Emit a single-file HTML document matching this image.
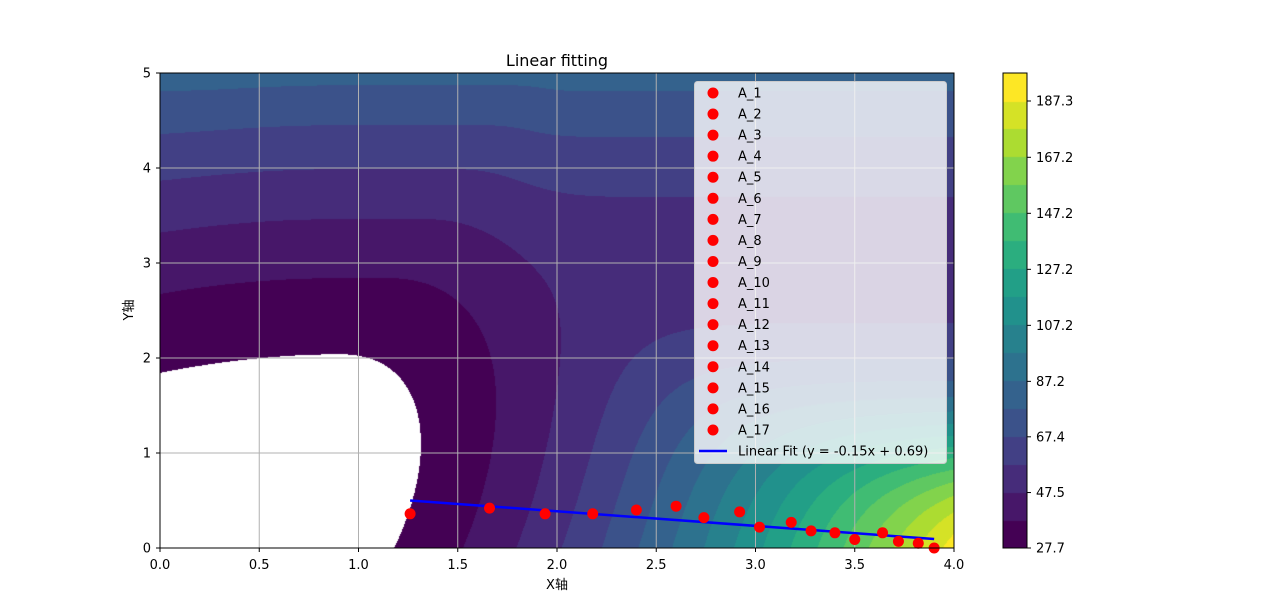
<!DOCTYPE html>
<html><head><meta charset="utf-8">
<style>
body{margin:0;background:#fff;width:1280px;height:616px;overflow:hidden;font-family:"Liberation Sans","DejaVu Sans","Noto Sans CJK SC",sans-serif;}
#wrap{position:relative;width:1280px;height:616px;}
canvas{position:absolute;}
svg{position:absolute;left:0;top:0;}
text{font-family:"DejaVu Sans","Liberation Sans","Noto Sans CJK SC",sans-serif;font-size:13px;fill:#000;}
</style></head>
<body>
<div id="wrap">
<canvas id="cf" width="794" height="475" style="left:160px;top:73px"></canvas>
<canvas id="cb" width="24" height="475" style="left:1003px;top:73px"></canvas>
<svg id="s" width="1280" height="616"></svg>
</div>
<script>
const xs=[1.26,1.66,1.94,2.18,2.40,2.60,2.74,2.92,3.02,3.18,3.28,3.40,3.50,3.64,3.72,3.82,3.90];
const ys=[0.36,0.42,0.36,0.36,0.40,0.44,0.32,0.38,0.22,0.27,0.18,0.16,0.09,0.16,0.07,0.05,0.0];
const labels=["A_1","A_2","A_3","A_4","A_5","A_6","A_7","A_8","A_9","A_10","A_11","A_12","A_13","A_14","A_15","A_16","A_17"];
const xTicks=[0,0.5,1,1.5,2,2.5,3,3.5,4];
const yTicks=[0,1,2,3,4,5];
const cbTicks=[27.7,47.5,67.4,87.2,107.2,127.2,147.2,167.2,187.3];
const vmin=27.7, vmax=197.3, nBands=17;

const PX=160,PY=73,PW=794,PH=475;
const sx=x=>PX+x/4*PW, sy=y=>PY+PH-y/5*PH;
const vir=["#440154","#482475","#414487","#355f8d","#2a788e","#21918c","#22a884","#44bf70","#7ad151","#bddf26","#fde725"];
function hex(h){return[parseInt(h.slice(1,3),16),parseInt(h.slice(3,5),16),parseInt(h.slice(5,7),16)];}
function viridis(t){t=Math.max(0,Math.min(1,t));const f=t*10,i=Math.min(9,Math.floor(f)),u=f-i;const a=hex(vir[i]),b=hex(vir[i+1]);return a.map((v,k)=>Math.round(v+(b[k]-v)*u));}
const bandCol=[];for(let k=0;k<nBands;k++)bandCol.push(viridis(k/(nBands-1)));
function field(x,y){
  const A=13.7+2.15*y, x0=0.3+0.3*y, C=400*Math.exp(-1.15*y);
  const xl=Math.min(x0,0.9);
  let Q;
  if(x>x0){const d=x-x0;Q=A*d*d;}
  else if(x<xl){const d=x-xl;Q=0.15*A*d*d;}
  else Q=0;
  return 17.1+2.55*y*y+C*Math.tanh(Q/C);
}
const c=document.getElementById('cf').getContext('2d');const img=c.createImageData(PW,PH);
const step=(vmax-vmin)/nBands;
for(let j=0;j<PH;j++)for(let i=0;i<PW;i++){const x=(i+0.5)/PW*4,y=5-(j+0.5)/PH*5;const v=field(x,y);const o=(j*PW+i)*4;let col=[255,255,255];
if(v>=vmin&&v<=vmax){col=bandCol[Math.min(nBands-1,Math.floor((v-vmin)/step))];}
img.data[o]=col[0];img.data[o+1]=col[1];img.data[o+2]=col[2];img.data[o+3]=255;}
c.putImageData(img,0,0);
const cb=document.getElementById('cb').getContext('2d');
for(let k=0;k<nBands;k++){const col=bandCol[k];cb.fillStyle=`rgb(${col})`;const y0=PH-(k+1)*PH/nBands;cb.fillRect(0,Math.floor(y0),24,Math.ceil(PH/nBands)+1);}

const NS="http://www.w3.org/2000/svg";const s=document.getElementById('s');
function el(t,a,txt){const e=document.createElementNS(NS,t);for(const k in a)e.setAttribute(k,a[k]);if(txt!==undefined)e.textContent=txt;s.appendChild(e);return e;}
xTicks.forEach(v=>{const g=el('line',{x1:sx(v),x2:sx(v),y1:PY,y2:PY+PH,stroke:'#b0b0b0','stroke-width':1});

});
yTicks.forEach(v=>{const g=el('line',{x1:PX,x2:PX+PW,y1:sy(v),y2:sy(v),stroke:'#b0b0b0','stroke-width':1});

});
const n=xs.length;let mx=0,my=0;xs.forEach((v,i)=>{mx+=v;my+=ys[i];});mx/=n;my/=n;
let sxy=0,sxx=0;xs.forEach((v,i)=>{sxy+=(v-mx)*(ys[i]-my);sxx+=(v-mx)*(v-mx);});
const slope=sxy/sxx,icpt=my-slope*mx;
const xmin=Math.min(...xs),xmax=Math.max(...xs);
const fl=el('line',{x1:sx(xmin),y1:sy(slope*xmin+icpt),x2:sx(xmax),y2:sy(slope*xmax+icpt),stroke:'#0000ff','stroke-width':2.5});


xs.forEach((v,i)=>{const p=el('circle',{cx:sx(v),cy:sy(ys[i]),r:5.5,fill:'#ff0000'});

});
const fr=el('rect',{x:PX,y:PY,width:PW,height:PH,fill:'none',stroke:'#000','stroke-width':1});


const lg=el('rect',{x:694.5,y:81.5,width:252,height:382,rx:3,fill:'rgba(255,255,255,0.8)',stroke:'#cccccc'});


labels.forEach((l,i)=>{const y=93+i*21.06;const m=el('circle',{cx:713,cy:y,r:5.5,fill:'#ff0000'});


const t=el('text',{x:738,y:y+4.5},l);

});
const ly=93+17*21.06;
const ll=el('line',{x1:699,x2:727,y1:ly,y2:ly,stroke:'#0000ff','stroke-width':2.5});


const lt=el('text',{x:738,y:ly+4.5},`Linear Fit (y = ${slope.toFixed(2)}x + ${icpt.toFixed(2)})`);


xTicks.forEach(v=>{const tk=el('line',{x1:sx(v),x2:sx(v),y1:PY+PH,y2:PY+PH+4,stroke:'#000'});


const t=el('text',{x:sx(v),y:569,'text-anchor':'middle'},v.toFixed(1));

});
yTicks.forEach(v=>{const tk=el('line',{x1:PX-4,x2:PX,y1:sy(v),y2:sy(v),stroke:'#000'});


const t=el('text',{x:151,y:sy(v)+4.5,'text-anchor':'end'},String(v));

});
const cbf=el('rect',{x:1003,y:73,width:24,height:475,fill:'none',stroke:'#000'});


cbTicks.forEach(v=>{const y=548-(v-vmin)/(vmax-vmin)*475;const tk=el('line',{x1:1027,x2:1031,y1:y,y2:y,stroke:'#000'});


const t=el('text',{x:1036,y:y+4.5},v.toFixed(1));

});
</script>
<svg width="1280" height="616" style="position:absolute;left:0;top:0;pointer-events:none">
<text x="557" y="66" text-anchor="middle" style="font-size:16px">Linear fitting</text>
<text x="557" y="589" text-anchor="middle">X轴</text>
<text x="133" y="310" text-anchor="middle" transform="rotate(-90 133 310)">Y轴</text>
</svg>
</body></html>
